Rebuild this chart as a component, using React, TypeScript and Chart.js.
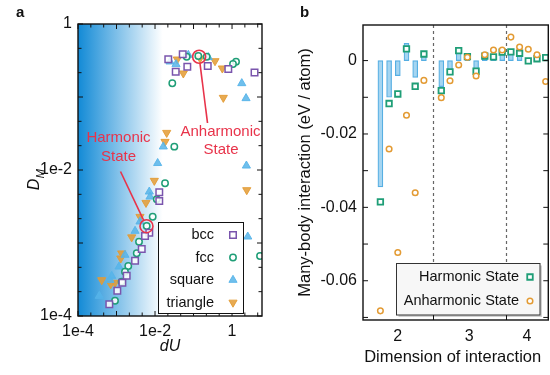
import React, { useEffect, useRef } from 'react';
import { Chart, registerables } from 'chart.js';

Chart.register(...registerables);

const FONT_FAMILY = '"Liberation Sans", Arial, Helvetica, sans-serif';

// ---------- Panel a : D_M versus dU ----------
const latticeLabels = ['bcc', 'fcc', 'square', 'triangle'];
const bccDU = [0.0221, 0.0345, 0.0524, 0.069, 0.234, 0.8, 3.84, 0.0129, 0.0129, 0.0071, 0.0055, 0.00452, 0.00303, 0.00184, 0.00142, 0.00105, 0.00065];
const bccDM = [0.328, 0.222, 0.385, 0.26, 0.266, 0.242, 0.217, 0.00495, 0.00376, 0.00138, 0.00125, 0.000828, 0.000573, 0.000356, 0.000286, 0.000222, 0.000145];
const fccDU = [0.0281, 0.0665, 0.133, 0.22, 1.27, 1.06, 0.0317, 0.0182, 0.0111, 0.0087, 0.00608, 0.00384, 0.00335, 0.00202, 0.00166, 0.00136, 0.000914, 5.33];
const fccDM = [0.154, 0.356, 0.365, 0.356, 0.305, 0.283, 0.0209, 0.00657, 0.00397, 0.00229, 0.00171, 0.00104, 0.000723, 0.000484, 0.000404, 0.000295, 0.000162, 0.000664];
const squareDU = [0.0245, 0.0351, 0.0733, 0.242, 1.79, 2.31, 0.0164, 0.0117, 2.36, 0.0071, 0.0074, 0.00407, 0.00303, 0.00166, 0.00116, 0.00075, 0.000678, 0.000357, 2.56];
const squareDM = [0.305, 0.281, 0.376, 0.35, 0.154, 0.096, 0.0209, 0.0124, 0.01145, 0.00504, 0.0043, 0.00196, 0.00146, 0.000685, 0.000473, 0.000353, 0.000311, 0.000188, 0.00122];
const triangleDU = [0.0379, 0.0543, 0.148, 0.361, 0.56, 0.594, 0.0201, 0.0182, 0.0096, 0.00583, 0.00407, 0.00248, 0.00136, 0.00129, 0.000413, 0.000706, 0.000914, 2.41];
const triangleDM = [0.328, 0.211, 0.339, 0.311, 0.247, 0.0978, 0.0324, 0.0244, 0.00714, 0.00356, 0.00229, 0.0012, 0.000723, 0.000617, 0.000311, 0.000274, 0.000286, 0.00532];
const harmonicPoint = [0.006, 0.0017];
const anharmonicPoint = [0.14, 0.356];
const aAxisMin = 1e-4;
const aXMax = 6;
const aYMax = 1;
const aTickValues = [1e-4, 1e-2, 1];
const aTickLabels = ['1e-4', '1e-2', '1'];

// ---------- Panel b : many-body interaction ----------
const dimensionLabels = ['2', '3', '4'];
const dimensionBounds = [-2, 6, 14.4, 19.3];
const interactionSlot = [0, 1, 2, 3, 4, 5, 7, 8, 9, 10, 11, 12, 13, 14, 15, 16, 17, 18, 19];
const meanInteraction = [-0.0344, -0.01, -0.0041, 0.0047, -0.0046, 0.0025, -0.0071, -0.0032, 0.0035, 0.0015, -0.0036, 0.0023, 0.0009, 0.0029, 0.0029, 0.0025, 0, 0.0005, 0.0007];
const harmonicInteraction = [-0.0385, -0.0117, -0.0091, 0.0032, -0.007, 0.0018, -0.0082, -0.0031, 0.0027, 0.0011, -0.0029, 0.0012, 0.001, 0.0023, 0.0024, 0.002, -0.0001, 0.0005, 0.0008];
const anharmonicInteraction = [-0.0682, -0.0241, -0.0523, -0.0149, -0.036, -0.0054, -0.0101, -0.0055, -0.0012, 0.0009, -0.0042, 0.0016, 0.0029, 0.0029, 0.0064, 0.0037, 0.0031, 0.0016, -0.0057];
const stateLabels = ['Harmonic State', 'Anharmonic State'];
const bYMin = -0.0707;
const bYMax = 0.0097;
const bTickValues = [-0.06, -0.04, -0.02, 0];
const bTickLabels = ['-0.06', '-0.04', '-0.02', '0'];

const PURPLE = '#7a55ad';
const GREEN = '#1f9e77';
const ORANGE = '#e39b34';
const RED = '#e8334a';

const pts = (xs: number[], ys: number[]) => xs.map((x, i) => ({ x, y: ys[i] }));

function markerPath(ctx: CanvasRenderingContext2D, style: string, x: number, y: number, r: number, rotation = 0) {
  ctx.beginPath();
  if (style === 'rect') {
    const s = r * Math.SQRT1_2;
    ctx.rect(x - s, y - s, 2 * s, 2 * s);
  } else if (style === 'circle') {
    ctx.arc(x, y, r, 0, Math.PI * 2);
  } else {
    let rad = (rotation * Math.PI) / 180;
    ctx.moveTo(x + Math.sin(rad) * r, y - Math.cos(rad) * r);
    rad += (2 * Math.PI) / 3;
    ctx.lineTo(x + Math.sin(rad) * r, y - Math.cos(rad) * r);
    rad += (2 * Math.PI) / 3;
    ctx.lineTo(x + Math.sin(rad) * r, y - Math.cos(rad) * r);
  }
  ctx.closePath();
}

function drawDatasetMarker(ctx: CanvasRenderingContext2D, ds: any, x: number, y: number) {
  ctx.save();
  markerPath(ctx, ds.pointStyle, x, y, ds.pointRadius, ds.pointRotation || 0);
  ctx.fillStyle = ds.pointBackgroundColor;
  ctx.fill();
  ctx.lineWidth = ds.pointBorderWidth;
  ctx.strokeStyle = ds.pointBorderColor;
  ctx.stroke();
  ctx.restore();
}

function drawBox(ctx: CanvasRenderingContext2D, a: any) {
  ctx.save();
  ctx.strokeStyle = '#111';
  ctx.lineWidth = 1.4;
  ctx.strokeRect(a.left, a.top, a.right - a.left, a.bottom - a.top);
  ctx.restore();
}

const panelAPlugin = {
  id: 'panelA',
  beforeDatasetsDraw(chart: any) {
    const { ctx, chartArea: a } = chart;
    ctx.save();
    const g = ctx.createLinearGradient(a.left, 0, a.left + (a.right - a.left) * 0.46, 0);
    g.addColorStop(0, 'rgb(18,138,214)');
    g.addColorStop(1, 'rgb(255,255,255)');
    ctx.fillStyle = g;
    ctx.fillRect(a.left, a.top, a.right - a.left, a.bottom - a.top);
    ctx.restore();
  },
  afterDatasetsDraw(chart: any) {
    const { ctx, chartArea: a, scales } = chart;
    const xs = scales.x;
    const ys = scales.y;
    drawBox(ctx, a);
    ctx.save();
    ctx.strokeStyle = '#111';
    ctx.lineWidth = 1;
    const lx0 = Math.log10(aAxisMin);
    for (let k = Math.ceil(lx0 * 3); k <= Math.floor(Math.log10(aXMax) * 3); k++) {
      const px = xs.getPixelForValue(Math.pow(10, k / 3));
      const len = k % 3 === 0 ? 5 : 3.5;
      ctx.beginPath();
      ctx.moveTo(px, a.bottom); ctx.lineTo(px, a.bottom - len);
      ctx.moveTo(px, a.top); ctx.lineTo(px, a.top + len);
      ctx.stroke();
    }
    for (let k = Math.ceil(lx0 * 3); k <= Math.floor(Math.log10(aYMax) * 3); k++) {
      const py = ys.getPixelForValue(Math.pow(10, k / 3));
      const len = k % 3 === 0 ? 5 : 3.5;
      ctx.beginPath();
      ctx.moveTo(a.left, py); ctx.lineTo(a.left + len, py);
      ctx.moveTo(a.right, py); ctx.lineTo(a.right - len, py);
      ctx.stroke();
    }
    ctx.restore();

    ctx.save();
    ctx.strokeStyle = RED;
    ctx.fillStyle = RED;
    ctx.lineWidth = 1.6;
    const hx = xs.getPixelForValue(harmonicPoint[0]);
    const hy = ys.getPixelForValue(harmonicPoint[1]);
    const ax = xs.getPixelForValue(anharmonicPoint[0]);
    const ay = ys.getPixelForValue(anharmonicPoint[1]);
    const rr = 6.5;
    ctx.beginPath(); ctx.arc(hx, hy, rr, 0, Math.PI * 2); ctx.stroke();
    ctx.beginPath(); ctx.arc(ax, ay, rr, 0, Math.PI * 2); ctx.stroke();
    const hStart = { x: 120.5, y: 171.5 };
    let dx = hx - hStart.x, dy = hy - hStart.y, d = Math.hypot(dx, dy);
    ctx.beginPath(); ctx.moveTo(hStart.x, hStart.y); ctx.lineTo(hx - (dx / d) * rr, hy - (dy / d) * rr); ctx.stroke();
    const aEnd = { x: 207.5, y: 123 };
    dx = aEnd.x - ax; dy = aEnd.y - ay; d = Math.hypot(dx, dy);
    ctx.beginPath(); ctx.moveTo(ax + (dx / d) * rr, ay + (dy / d) * rr); ctx.lineTo(aEnd.x, aEnd.y); ctx.stroke();
    ctx.font = `15px ${FONT_FAMILY}`;
    ctx.textAlign = 'center';
    ctx.textBaseline = 'middle';
    ctx.fillText('Harmonic', 118.5, 138);
    ctx.fillText('State', 118.5, 156.5);
    ctx.fillText('Anharmonic', 220.5, 131.5);
    ctx.fillText('State', 221, 149.5);
    ctx.restore();

    ctx.save();
    const L = { left: 158, top: 222, right: 243, bottom: 313 };
    ctx.fillStyle = '#fff';
    ctx.fillRect(L.left, L.top, L.right - L.left, L.bottom - L.top);
    ctx.strokeStyle = '#111';
    ctx.lineWidth = 1;
    ctx.strokeRect(L.left + 0.5, L.top + 0.5, L.right - L.left, L.bottom - L.top);
    ctx.font = `14.5px ${FONT_FAMILY}`;
    ctx.fillStyle = '#111';
    ctx.textAlign = 'right';
    ctx.textBaseline = 'middle';
    chart.data.datasets.forEach((ds: any, i: number) => {
      const y = 235 + i * 22.5;
      ctx.fillText(ds.label, 214, y);
      drawDatasetMarker(ctx, ds, 233, y);
    });
    ctx.restore();
  },
  afterDraw(chart: any) {
    const { ctx } = chart;
    ctx.save();
    ctx.fillStyle = '#111';
    ctx.font = `bold 15px ${FONT_FAMILY}`;
    ctx.textAlign = 'left';
    ctx.textBaseline = 'alphabetic';
    ctx.fillText('a', 16, 17);
    ctx.font = `italic 16px ${FONT_FAMILY}`;
    ctx.textAlign = 'center';
    ctx.fillText('dU', 170, 351);
    ctx.translate(39, 180);
    ctx.rotate(-Math.PI / 2);
    ctx.textAlign = 'left';
    ctx.font = `italic 16px ${FONT_FAMILY}`;
    const wD = ctx.measureText('D').width;
    ctx.font = `italic 11px ${FONT_FAMILY}`;
    const wM = ctx.measureText('M').width;
    const start = -(wD + wM) / 2;
    ctx.font = `italic 16px ${FONT_FAMILY}`;
    ctx.fillText('D', start, 0);
    ctx.font = `italic 11px ${FONT_FAMILY}`;
    ctx.fillText('M', start + wD + 0.5, 5);
    ctx.restore();
  },
};

const panelBPlugin = {
  id: 'panelB',
  beforeDatasetsDraw(chart: any) {
    const { ctx, chartArea: a, scales } = chart;
    ctx.save();
    ctx.strokeStyle = '#666';
    ctx.lineWidth = 1.2;
    ctx.setLineDash([3, 3]);
    for (let i = 1; i < dimensionBounds.length - 1; i++) {
      const px = Math.round(scales.x.getPixelForValue(dimensionBounds[i])) + 0.5;
      ctx.beginPath();
      ctx.moveTo(px, a.top);
      ctx.lineTo(px, a.bottom);
      ctx.stroke();
    }
    ctx.restore();
  },
  afterDatasetsDraw(chart: any) {
    const { ctx, chartArea: a, scales } = chart;
    drawBox(ctx, a);
    ctx.save();
    ctx.strokeStyle = '#111';
    ctx.lineWidth = 1;
    for (let v = -0.07; v <= bYMax + 1e-9; v += 0.01) {
      if (v < bYMin) continue;
      const py = scales.y.getPixelForValue(v);
      ctx.beginPath();
      ctx.moveTo(a.left, py); ctx.lineTo(a.left + 5, py);
      ctx.moveTo(a.right, py); ctx.lineTo(a.right - 5, py);
      ctx.stroke();
    }
    for (let i = 1; i < dimensionBounds.length - 1; i++) {
      const px = Math.round(scales.x.getPixelForValue(dimensionBounds[i])) + 0.5;
      ctx.beginPath();
      ctx.moveTo(px, a.bottom); ctx.lineTo(px, a.bottom - 5);
      ctx.stroke();
    }
    ctx.restore();

    ctx.save();
    const L = { left: 121.5, top: 263.5, right: 265, bottom: 315 };
    ctx.fillStyle = 'rgba(0,0,0,0.18)';
    ctx.fillRect(L.left + 2, L.top + 2, L.right - L.left, L.bottom - L.top);
    ctx.fillStyle = '#f7f7f7';
    ctx.fillRect(L.left, L.top, L.right - L.left, L.bottom - L.top);
    ctx.strokeStyle = '#333';
    ctx.lineWidth = 1;
    ctx.strokeRect(L.left, L.top, L.right - L.left, L.bottom - L.top);
    ctx.font = `14.5px ${FONT_FAMILY}`;
    ctx.fillStyle = '#111';
    ctx.textAlign = 'right';
    ctx.textBaseline = 'middle';
    const entries = chart.data.datasets.filter((ds: any) => ds.type === 'scatter');
    entries.forEach((ds: any, i: number) => {
      const y = 277 + i * 24;
      ctx.fillText(ds.label, 244, y);
      drawDatasetMarker(ctx, ds, 255, y);
    });
    ctx.restore();
  },
  afterDraw(chart: any) {
    const { ctx, chartArea: a } = chart;
    ctx.save();
    ctx.fillStyle = '#111';
    ctx.font = `bold 15px ${FONT_FAMILY}`;
    ctx.textAlign = 'left';
    ctx.textBaseline = 'alphabetic';
    ctx.fillText('b', 25, 17);
    ctx.font = `16.5px ${FONT_FAMILY}`;
    ctx.textAlign = 'center';
    ctx.textBaseline = 'middle';
    ctx.fillText('Dimension of interaction', (a.left + a.right) / 2 - 3, 357);
    ctx.translate(30, (a.top + a.bottom) / 2);
    ctx.rotate(-Math.PI / 2);
    ctx.fillText('Many-body interaction (eV / atom)', 0, 0);
    ctx.restore();
  },
};

export default function App() {
  const refA = useRef<HTMLCanvasElement>(null);
  const refB = useRef<HTMLCanvasElement>(null);

  useEffect(() => {
    const tickFont = { family: FONT_FAMILY, size: 16 };
    const markerBase = (style: string, r: number, stroke: string, fill: string, lw: number, rot = 0) => ({
      pointStyle: style,
      pointRadius: r,
      pointHoverRadius: r,
      pointBorderColor: stroke,
      pointBackgroundColor: fill,
      pointBorderWidth: lw,
      pointRotation: rot,
      borderColor: stroke,
      backgroundColor: fill,
      showLine: false,
    });
    const noPadH = (s: any, h: number) => { s.height = h; s.paddingLeft = 0; s.paddingRight = 0; };
    const noPadV = (s: any, w: number) => { s.width = w; s.paddingTop = 0; s.paddingBottom = 0; };

    const chartA = new Chart(refA.current as HTMLCanvasElement, {
      type: 'scatter',
      data: {
        datasets: [
          { label: latticeLabels[0], data: pts(bccDU, bccDM), ...markerBase('rect', 4.6, PURPLE, 'rgba(255,255,255,0.85)', 1.5) },
          { label: latticeLabels[1], data: pts(fccDU, fccDM), ...markerBase('circle', 3.2, GREEN, 'rgba(255,255,255,0.85)', 1.5) },
          { label: latticeLabels[2], data: pts(squareDU, squareDM), ...markerBase('triangle', 4.7, 'rgba(86,180,233,0.9)', 'rgba(86,180,233,0.85)', 1) },
          { label: latticeLabels[3], data: pts(triangleDU, triangleDM), ...markerBase('triangle', 4.7, 'rgba(227,155,52,0.9)', 'rgba(227,155,52,0.85)', 1, 180) },
        ] as any,
      },
      options: {
        animation: false,
        responsive: false,
        devicePixelRatio: 1,
        layout: { padding: { left: 0, right: 13, top: 24, bottom: 0 } },
        plugins: { legend: { display: false }, tooltip: { enabled: false } },
        scales: {
          x: {
            type: 'logarithmic',
            min: aAxisMin,
            max: aXMax,
            grid: { display: false, drawTicks: false },
            border: { display: false },
            ticks: {
              font: tickFont, color: '#111', padding: 6, autoSkip: false, maxRotation: 0,
              callback: (_v: any, i: number) => aTickLabels[i],
            },
            afterBuildTicks: (s: any) => { s.ticks = aTickValues.map((v) => ({ value: v })); },
            afterFit: (s: any) => noPadH(s, 59),
          },
          y: {
            type: 'logarithmic',
            min: aAxisMin,
            max: aYMax,
            grid: { display: false, drawTicks: false },
            border: { display: false },
            ticks: {
              font: tickFont, color: '#111', padding: 6, autoSkip: false,
              callback: (_v: any, i: number) => aTickLabels[i],
            },
            afterBuildTicks: (s: any) => { s.ticks = aTickValues.map((v) => ({ value: v })); },
            afterFit: (s: any) => noPadV(s, 78),
          },
        },
      } as any,
      plugins: [panelAPlugin],
    });

    const dimTicks = dimensionLabels.map((_, i) => (dimensionBounds[i] + dimensionBounds[i + 1]) / 2);

    const chartB = new Chart(refB.current as HTMLCanvasElement, {
      type: 'bar',
      data: {
        datasets: [
          {
            type: 'bar',
            label: 'mean',
            data: pts(interactionSlot, meanInteraction),
            backgroundColor: '#a5d5f1',
            borderColor: '#55aee2',
            borderWidth: 1.2,
            borderSkipped: false,
            barThickness: 5,
            order: 3,
          },
          {
            type: 'scatter',
            label: stateLabels[0],
            data: pts(interactionSlot, harmonicInteraction),
            ...markerBase('rect', 3.9, GREEN, '#ffffff', 1.8),
            order: 2,
          },
          {
            type: 'scatter',
            label: stateLabels[1],
            data: pts(interactionSlot, anharmonicInteraction),
            ...markerBase('circle', 2.8, ORANGE, '#ffffff', 1.5),
            order: 1,
          },
        ] as any,
      },
      options: {
        animation: false,
        responsive: false,
        devicePixelRatio: 1,
        layout: { padding: { left: 0, right: 2, top: 25, bottom: 0 } },
        plugins: { legend: { display: false }, tooltip: { enabled: false } },
        scales: {
          x: {
            type: 'linear',
            offset: false,
            min: dimensionBounds[0],
            max: dimensionBounds[dimensionBounds.length - 1],
            grid: { display: false, drawTicks: false, offset: false },
            border: { display: false },
            ticks: {
              font: tickFont, color: '#111', padding: 7, autoSkip: false, maxRotation: 0,
              callback: (_v: any, i: number) => dimensionLabels[i],
            },
            afterBuildTicks: (s: any) => { s.ticks = dimTicks.map((v) => ({ value: v })); },
            afterFit: (s: any) => noPadH(s, 55),
          },
          y: {
            type: 'linear',
            min: bYMin,
            max: bYMax,
            grid: { display: false, drawTicks: false },
            border: { display: false },
            ticks: {
              font: tickFont, color: '#111', padding: 6, autoSkip: false,
              callback: (_v: any, i: number) => bTickLabels[i],
            },
            afterBuildTicks: (s: any) => { s.ticks = bTickValues.map((v) => ({ value: v })); },
            afterFit: (s: any) => noPadV(s, 88),
          },
        },
      } as any,
      plugins: [panelBPlugin],
    });

    return () => {
      chartA.destroy();
      chartB.destroy();
    };
  }, []);

  return (
    <div style={{ position: 'absolute', left: 0, top: 0, width: 550, height: 375, background: '#fff', overflow: 'hidden' }}>
      <canvas ref={refA} width={275} height={375} style={{ position: 'absolute', left: 0, top: 0, width: 275, height: 375 }} />
      <canvas ref={refB} width={279} height={375} style={{ position: 'absolute', left: 275, top: 0, width: 279, height: 375 }} />
    </div>
  );
}
